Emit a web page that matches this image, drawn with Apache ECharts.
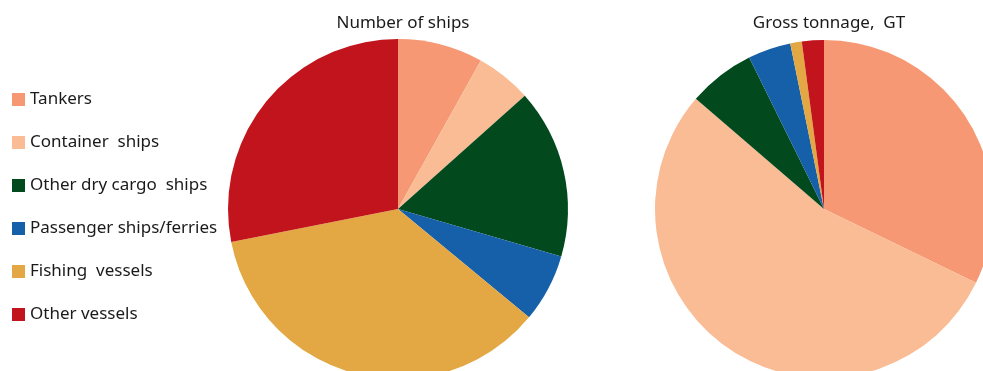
<!DOCTYPE html>
<html>
<head>
<meta charset="utf-8">
<script src="https://cdn.jsdelivr.net/npm/echarts@6/dist/echarts.min.js"></script>
<style>
  html, body { margin: 0; padding: 0; background: #fff; }
  #chart { width: 983px; height: 371px; }
</style>
</head>
<body>
<div id="chart"></div>
<script>
// ship types and their shares (%)
var categories = ['Tankers', 'Container  ships', 'Other dry cargo  ships', 'Passenger ships/ferries', 'Fishing  vessels', 'Other vessels'];
var shipsCount = [8.1, 5.3, 16.1, 6.5, 35.9, 28.1];
var grossTonnage = [32.2, 54.1, 6.4, 4.1, 1.1, 2.1];
var colors = ['#F59873', '#F9BC95', '#024A1E', '#1560A8', '#E3A843', '#C1141C'];

function toData(vals) {
    return categories.map(function (name, i) {
        return { name: name, value: vals[i] };
    });
}

var chart = echarts.init(document.getElementById('chart'));

var option = {
    color: colors,
    animation: false,
    textStyle: { fontFamily: 'Noto Sans' },
    title: [{
        text: 'Number of ships',
        left: 398,
        top: 10,
        textAlign: 'center',
        textStyle: { fontSize: 17, fontWeight: 'normal', color: '#1a1a1a', fontFamily: 'Noto Sans' }
    }, {
        text: 'Gross tonnage,  GT',
        left: 824,
        top: 10,
        textAlign: 'center',
        textStyle: { fontSize: 17, fontWeight: 'normal', color: '#1a1a1a', fontFamily: 'Noto Sans' }
    }],
    legend: {
        orient: 'vertical',
        left: 12,
        top: 91,
        padding: 0,
        itemWidth: 13,
        itemHeight: 13,
        itemGap: 26,
        icon: 'rect',
        selectedMode: false,
        data: categories,
        textStyle: { fontSize: 17, color: '#1a1a1a', fontFamily: 'Noto Sans' }
    },
    series: [{
        name: 'Number of ships',
        type: 'pie',
        center: [398, 209],
        radius: 170,
        startAngle: 90,
        clockwise: true,
        label: { show: false },
        labelLine: { show: false },
        itemStyle: { borderWidth: 0 },
        data: toData(shipsCount)
    }, {
        name: 'Gross tonnage, GT',
        type: 'pie',
        center: [824, 209],
        radius: 169,
        startAngle: 90,
        clockwise: true,
        label: { show: false },
        labelLine: { show: false },
        itemStyle: { borderWidth: 0 },
        data: toData(grossTonnage)
    }]
};

chart.setOption(option);
</script>
</body>
</html>
